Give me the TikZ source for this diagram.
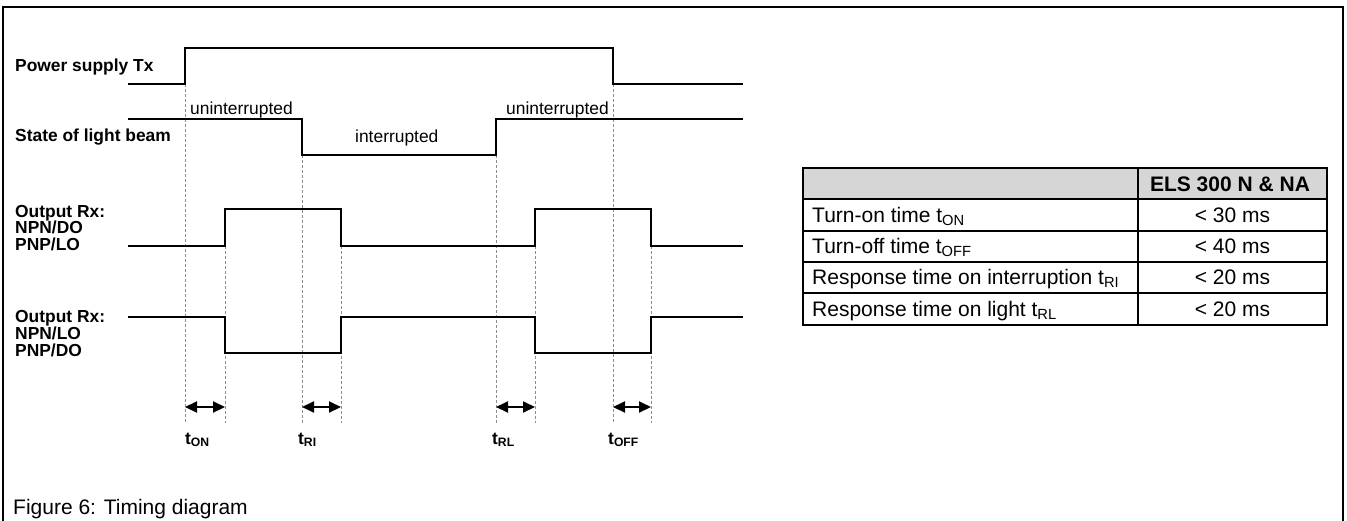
\documentclass[tikz,border=0pt]{standalone}
\usepackage{fontspec}
\setmainfont{Liberation Sans}
\usetikzlibrary{arrows.meta}
\newcommand\lblfont{\bfseries\fontsize{17.4}{20}\selectfont}
\newcommand\txtfont{\fontsize{17.4}{20}\selectfont}
\newcommand\tabfont{\fontsize{21}{24}\selectfont}
\definecolor{hdrgray}{gray}{0.84}
\definecolor{guidegray}{gray}{0.55}
\tikzset{
  frameline/.style={line width=2.5pt},
  sig/.style={line width=2pt, line join=miter},
  guide/.style={draw=guidegray, line width=0.8pt, dash pattern=on 3pt off 2pt},
  dimarrow/.style={line width=2pt, {Triangle[length=12pt,width=11pt]}-{Triangle[length=12pt,width=11pt]}},
  lbl/.style={font=\lblfont, anchor=base west, inner sep=0pt},
  state/.style={font=\txtfont, anchor=base west, inner sep=0pt},
  tlbl/.style={font=\lblfont, anchor=base west, inner sep=0pt},
  celltxt/.style={font=\tabfont, anchor=base west, inner sep=0pt},
  cellval/.style={font=\tabfont, anchor=base, inner sep=0pt},
  tabline/.style={line width=1.8pt},
}
\begin{document}
\begin{tikzpicture}[x=1pt,y=-1pt]
\useasboundingbox (0,0) rectangle (1347,520);
% frame
\coordinate (fbl) at (3,521);
\coordinate (ftl) at (3,7);
\coordinate (ftr) at (1343,7);
\coordinate (fbr) at (1343,521);
\draw[frameline] (fbl) -- (ftl) -- (ftr) -- (fbr);

% guide lines
\foreach \gx/\gy [count=\i] in {185/84,225/246,302/155,341/246,496/155,535/246,613/84,651/246}{
  \coordinate (gt\i) at (\gx,\gy);
  \coordinate (gb\i) at (\gx,423);
  \draw[guide] (gt\i) -- (gb\i);
}

% labels
\node[lbl] (lpow) at (15,71) {Power supply Tx};
\node[lbl] (lbeam) at (15,141.5) {State of light beam};
\node[lbl] (lo1a) at (15,217) {Output Rx:};
\node[lbl] (lo1b) at (15,233.5) {NPN/DO};
\node[lbl] (lo1c) at (15,250) {PNP/LO};
\node[lbl] (lo2a) at (15,322) {Output Rx:};
\node[lbl] (lo2b) at (15,339) {NPN/LO};
\node[lbl] (lo2c) at (15,356) {PNP/DO};

% power supply
\coordinate (p0) at (128,84); \coordinate (p1) at (185,84); \coordinate (p2) at (185,48);
\coordinate (p3) at (613,48); \coordinate (p4) at (613,84); \coordinate (p5) at (743,84);
\draw[sig] (p0) -- (p1) -- (p2) -- (p3) -- (p4) -- (p5);

% light beam
\coordinate (b0) at (128,119); \coordinate (b1) at (302,119); \coordinate (b2) at (302,155);
\coordinate (b3) at (496,155); \coordinate (b4) at (496,119); \coordinate (b5) at (743,119);
\draw[sig] (b0) -- (b1) -- (b2) -- (b3) -- (b4) -- (b5);
\node[state] (s1) at (190,114.5) {uninterrupted};
\node[state] (s2) at (355,142) {interrupted};
\node[state] (s3) at (506,114.5) {uninterrupted};

% output 1
\coordinate (o0) at (128,246); \coordinate (o1) at (225,246); \coordinate (o2) at (225,209);
\coordinate (o3) at (341,209); \coordinate (o4) at (341,246); \coordinate (o5) at (535,246);
\coordinate (o6) at (535,209); \coordinate (o7) at (651,209); \coordinate (o8) at (651,246);
\coordinate (o9) at (743,246);
\draw[sig] (o0) -- (o1) -- (o2) -- (o3) -- (o4) -- (o5) -- (o6) -- (o7) -- (o8) -- (o9);

% output 2
\coordinate (q0) at (128,317); \coordinate (q1) at (225,317); \coordinate (q2) at (225,353);
\coordinate (q3) at (341,353); \coordinate (q4) at (341,317); \coordinate (q5) at (535,317);
\coordinate (q6) at (535,353); \coordinate (q7) at (651,353); \coordinate (q8) at (651,317);
\coordinate (q9) at (743,317);
\draw[sig] (q0) -- (q1) -- (q2) -- (q3) -- (q4) -- (q5) -- (q6) -- (q7) -- (q8) -- (q9);

% dimension arrows
\coordinate (a1) at (185,407); \coordinate (a2) at (225,407);
\coordinate (a3) at (302,407); \coordinate (a4) at (341,407);
\coordinate (a5) at (496,407); \coordinate (a6) at (535,407);
\coordinate (a7) at (613,407); \coordinate (a8) at (651,407);
\draw[dimarrow] (a1) -- (a2);
\draw[dimarrow] (a3) -- (a4);
\draw[dimarrow] (a5) -- (a6);
\draw[dimarrow] (a7) -- (a8);
\node[tlbl] (ton) at (185,444) {t\textsubscript{ON}};
\node[tlbl] (tri) at (298,444) {t\textsubscript{RI}};
\node[tlbl] (trl) at (492,444) {t\textsubscript{RL}};
\node[tlbl] (toff) at (608,444) {t\textsubscript{OFF}};

% table
\fill[hdrgray] (803,168) rectangle (1327,199);
\foreach \ty in {168,199,231,262,293,325}{
  \draw[tabline] (802.1,\ty) -- (1327.9,\ty);
}
\draw[tabline] (803,167.1) -- (803,325.9);
\draw[tabline] (1138,167.1) -- (1138,325.9);
\draw[tabline] (1327,167.1) -- (1327,325.9);
\node[cellval, font=\tabfont\bfseries] (hdr) at (1230,191) {ELS 300 N \& NA};
\node[celltxt] (r1) at (812,222) {Turn-on time t\textsubscript{ON}};
\node[celltxt] (r2) at (812,253.5) {Turn-off time t\textsubscript{OFF}};
\node[celltxt] (r3) at (812,284.5) {Response time on interruption t\textsubscript{RI}};
\node[celltxt] (r4) at (812,316) {Response time on light t\textsubscript{RL}};
\node[cellval] (v1) at (1232.5,222) {< 30 ms};
\node[cellval] (v2) at (1232.5,253.5) {< 40 ms};
\node[cellval] (v3) at (1232.5,284.5) {< 20 ms};
\node[cellval] (v4) at (1232.5,316) {< 20 ms};

% caption
\node[celltxt] (cap) at (13,514) {Figure 6: Timing diagram};
\end{tikzpicture}
\end{document}
